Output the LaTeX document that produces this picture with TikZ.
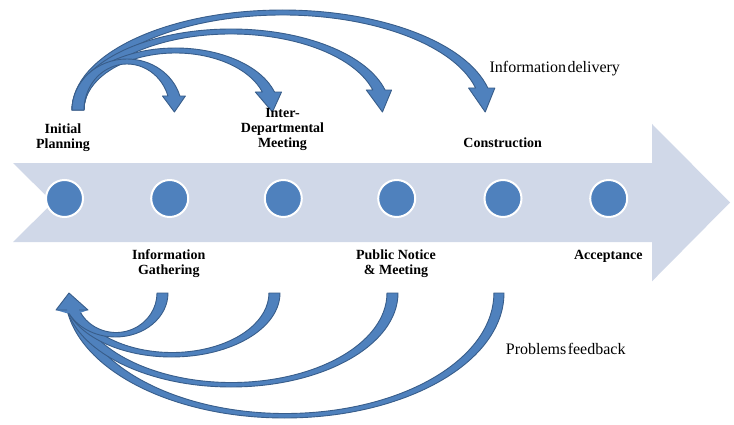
\documentclass[tikz,border=0pt]{standalone}
\usepackage{fontspec}
\setmainfont{Liberation Serif}
\usetikzlibrary{calc}
\definecolor{bandfill}{HTML}{D0D8E8}
\definecolor{dotfill}{HTML}{4F81BD}
\definecolor{arrfill}{HTML}{4F81BD}
\definecolor{arrline}{HTML}{385D8A}
\tikzset{
  arrsty/.style={fill=arrfill,draw=arrline,line width=0.9pt,line join=round},
  dot/.style={circle,fill=dotfill,draw=white,line width=2pt,minimum size=37pt,inner sep=0pt},
  lbl/.style={font=\fontsize{14}{15}\selectfont\bfseries,align=center,inner sep=0pt},
  note/.style={font=\fontsize{16}{18}\selectfont,inner sep=0pt}
}
% top curved arrow: outer rx, outer ry, inner rx, inner ry, head wing extension, head back height, tip shift
\newcommand{\TopArrow}[7]{%
  \path (72,314) arc[start angle=180,end angle={asin(#6/#2)},x radius=#1,y radius=#2] coordinate (tO);
  \coordinate (tI) at ({84+#3*(1+cos(asin(#6/#4)))},{314+#6});
  \filldraw[arrsty] (72,314) arc[start angle=180,end angle={asin(#6/#2)},x radius=#1,y radius=#2]
    -- ($(tO)+(#5,0)$) -- ($(tO)!0.5!(tI)+(#7,{-#6-2})$) -- ($(tI)+(-#5,0)$) -- (tI)
    arc[start angle={asin(#6/#4)},end angle=180,x radius=#3,y radius=#4] -- cycle;
}
% bottom curved arrow shaft: tail right x, outer rx, outer ry, inner rx, inner ry
\newcommand{\BotArrow}[5]{%
  \filldraw[arrsty] (#1,131) arc[start angle=0,end angle={-180+asin(17/#3)},x radius=#2,y radius=#3]
    -- (79,114) arc[start angle={-180+asin(17/#5)},end angle=0,x radius=#4,y radius=#5] -- cycle;
}
\begin{document}
\begin{tikzpicture}[x=1pt,y=1pt]
\useasboundingbox (0,0) rectangle (734,424);
\fill[white] (0,0) rectangle (734,424);
% big process arrow
\fill[bandfill] (13,261) -- (652,261) -- (652,300) -- (730,221.5) -- (652,142.7)
  -- (652,182) -- (13,182) -- (53,221.5) -- cycle;
% stage dots
\node[dot] (c1) at (64.5,225.5) {};
\node[dot] (c2) at (169.7,225.5) {};
\node[dot] (c3) at (283.3,225.5) {};
\node[dot] (c4) at (396.7,225.5) {};
\node[dot] (c5) at (503,225.5) {};
\node[dot] (c6) at (608.7,225.5) {};
% information delivery arrows
\TopArrow{210.5}{100}{198.5}{95}{7}{22}{3.5}
\TopArrow{159}{81}{147}{76}{6.5}{20}{3.5}
\TopArrow{103.5}{62}{91.5}{57}{7}{18}{4}
\TopArrow{55}{51}{43}{46}{5.5}{14}{0.5}
% problems feedback arrows
\BotArrow{504}{219.5}{125}{208.5}{120.5}
\BotArrow{398}{166.9}{94}{155.4}{89.5}
\BotArrow{280}{108.4}{64}{97}{59.5}
\BotArrow{168}{52.5}{44}{41}{39.5}
\fill[arrfill] (56,114) -- (69,131) -- (88,114) -- (80,111) -- (66,111) -- cycle;
\draw[arrline,line width=0.9pt,line join=round] (67,114) -- (56,114) -- (69,131) -- (88,114) -- (79,114);
% labels
\node[lbl] (l1) at (63,286.8) {Initial\\Planning};
\node[lbl] (l3) at (282.5,294.3) {Inter-\\Departmental\\Meeting};
\node[lbl] (l5) at (502.7,280.8) {Construction};
\node[lbl] (l2) at (168.8,160.3) {Information\\Gathering};
\node[lbl] (l4) at (396,160.3) {Public Notice\\\& Meeting};
\node[lbl] (l6) at (608.3,167.8) {Acceptance};
\node[note] (nd) at (554.8,355.4) {Information\hspace{1.5pt}delivery};
\node[note] (nf) at (565.7,75.1) {Problems\hspace{1.5pt}feedback};
\end{tikzpicture}
\end{document}
